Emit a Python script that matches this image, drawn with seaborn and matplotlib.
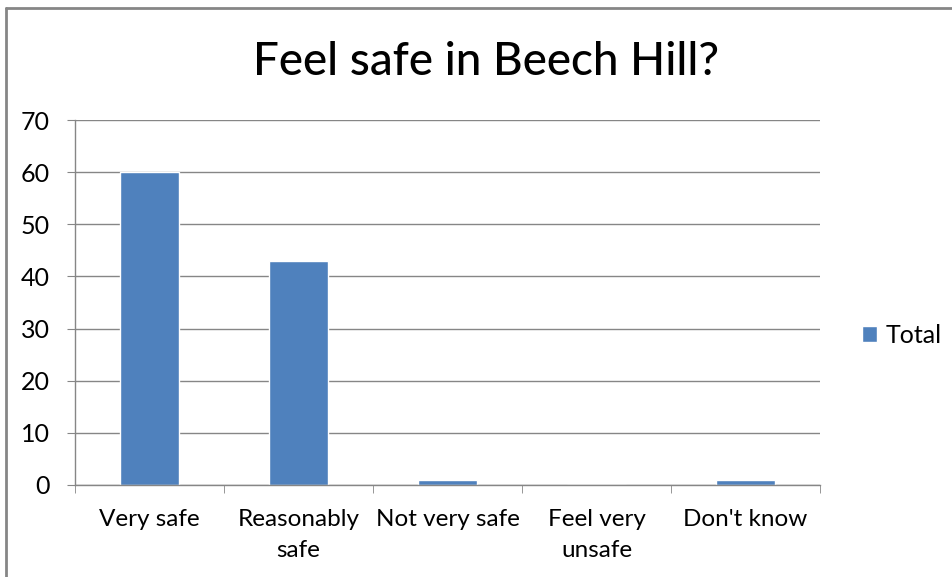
import numpy as np
import seaborn as sns
import matplotlib.pyplot as plt
from matplotlib.lines import Line2D

# 数据
categories = ['Very safe', 'Reasonably\nsafe', 'Not very safe', 'Feel very\nunsafe', "Don't know"]
totals = [60, 43, 1, 0, 1]
yticks = [0, 10, 20, 30, 40, 50, 60, 70]

sns.set_style('white')
plt.rcParams['font.family'] = ['Lato', 'DejaVu Sans']
plt.rcParams['text.color'] = 'black'
plt.rcParams['xtick.labelcolor'] = 'black'
plt.rcParams['ytick.labelcolor'] = 'black'

fig = plt.figure(figsize=(9.53, 5.77), dpi=100)
ax = fig.add_axes([75 / 953, 1 - 485 / 577, 745 / 953, 365 / 577])

sns.barplot(x=categories, y=totals, color='#4F81BD', width=0.4,
            label='Total', ax=ax, saturation=1)

ax.set_ylim(0, 70)
ax.set_xlim(-0.5, 4.5)
ax.set_yticks(yticks)
ax.yaxis.grid(True, color='#868686', linewidth=1)
ax.set_axisbelow(True)

for s in ['top', 'right']:
    ax.spines[s].set_visible(False)
for s in ['left', 'bottom']:
    ax.spines[s].set_color('#868686')
    ax.spines[s].set_linewidth(1)

# 刻度
ax.tick_params(axis='y', length=6, color='#868686', labelsize=18, pad=12, left=True)
ax.tick_params(axis='x', which='major', length=0, labelsize=17.5, pad=17)
for lbl in ax.get_xticklabels():
    lbl.set_linespacing(1.6)
ax.set_xticks(np.arange(-0.5, 5, 1), minor=True)
ax.tick_params(axis='x', which='minor', length=6, color='#868686', bottom=True)

fig.text(0.51, 1 - 62 / 577, 'Feel safe in Beech Hill?', fontsize=33,
         ha='center', va='center', fontweight='medium')

ax.legend(loc='center left', bbox_to_anchor=(1.026, 0.41), frameon=False,
          fontsize=18, handlelength=0.6, handleheight=0.6, handletextpad=0.35)

# 外框
fig.add_artist(Line2D([6 / 953, 6 / 953], [0, 1 - 8 / 577], transform=fig.transFigure,
                      color='#868686', linewidth=2))
fig.add_artist(Line2D([6 / 953, 1], [1 - 8 / 577, 1 - 8 / 577], transform=fig.transFigure,
                      color='#868686', linewidth=2))

fig.savefig('out.png', dpi=100)
